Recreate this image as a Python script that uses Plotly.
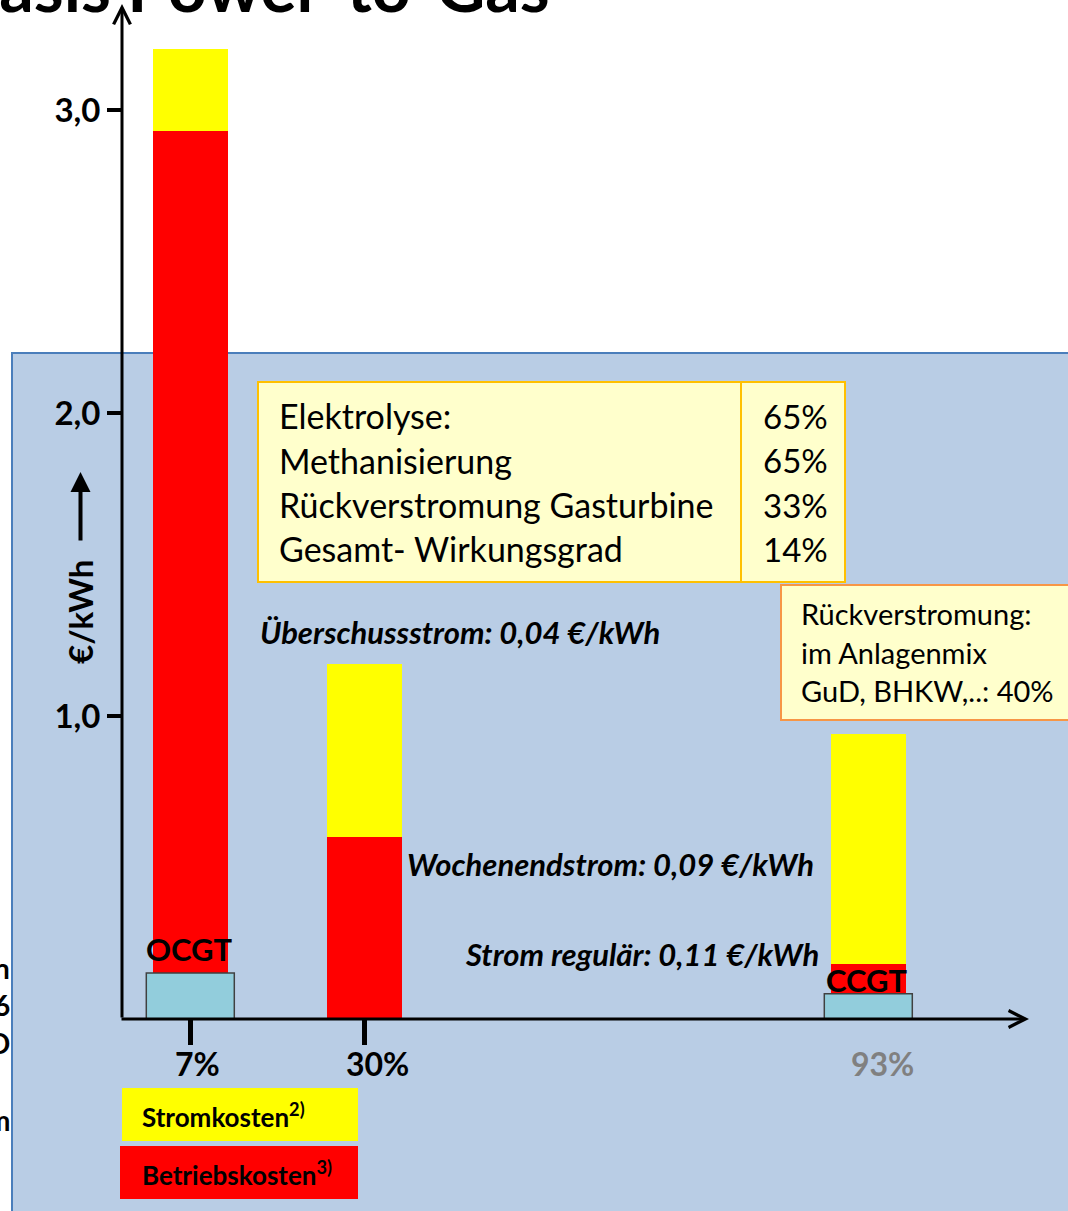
import plotly.graph_objects as go

# ---- data ----
categories = ["7%", "30%", "93%"]
plant_types = ["OCGT", None, "CCGT"]
betriebskosten = [2.93, 0.60, 0.18]   # €/kWh, red segment
stromkosten = [0.27, 0.57, 0.76]      # €/kWh, yellow segment
y_tick_values = [1, 2, 3]
y_tick_labels = ["1,0", "2,0", "3,0"]
table_labels = ["Elektrolyse:", "Methanisierung", "Rückverstromung Gasturbine", "Gesamt- Wirkungsgrad"]
table_values = ["65%", "65%", "33%", "14%"]
price_notes = ["Überschussstrom: 0,04 €/kWh", "Wochenendstrom: 0,09 €/kWh", "Strom regulär: 0,11 €/kWh"]
mix_note = ["Rückverstromung:", "im Anlagenmix", "GuD, BHKW,..: 40%"]
legend_labels = ["Stromkosten<sup>2)</sup>", "Betriebskosten<sup>3)</sup>"]

# ---- page geometry ----
W, H = 1068, 1211
L, R, T, B = 122, 39, 4, 192
PW, PH = W - L - R, H - T - B
UNIT_PX = 303                       # pixels per 1 €/kWh
Y_MAX = PH / UNIT_PX
slot_x = [68.3, 242.2, 746.3]       # bar centres along the x axis
bar_width = 75
label_shift = [7, 13, 14]
plant_box = {"OCGT": 0.152, "CCGT": 0.083}
plant_label_y = {"OCGT": 949, "CCGT": 980}

FONT = "Lato"
YELLOW, RED = "#FFFF00", "#FF0000"


def px(x):
    return (x - L) / PW


def py(y):
    return (H - B - y) / PH


def text_ann(x, y, text, size, xanchor="left", color="black", **kw):
    return dict(x=px(x), y=py(y), xref="paper", yref="paper", xanchor=xanchor, yanchor="middle",
                text=text, showarrow=False, font=dict(family=FONT, size=size, color=color), **kw)


fig = go.Figure()
fig.add_trace(go.Bar(x=slot_x, y=betriebskosten, width=bar_width, name="Betriebskosten",
                     marker=dict(color=RED, line=dict(width=0))))
fig.add_trace(go.Bar(x=slot_x, y=stromkosten, width=bar_width, name="Stromkosten",
                     marker=dict(color=YELLOW, line=dict(width=0))))

shapes = [
    # blue slide panel
    dict(type="rect", xref="paper", yref="paper", x0=px(12), x1=px(1090), y0=py(1240), y1=py(353),
         fillcolor="#B9CDE5", line=dict(color="#4A7EBB", width=2), layer="below"),
    # efficiency table
    dict(type="rect", xref="paper", yref="paper", x0=px(258), x1=px(845), y0=py(582), y1=py(382),
         fillcolor="#FFFFCC", line=dict(color="#FFC000", width=2), layer="below"),
    dict(type="line", xref="paper", yref="paper", x0=px(741), x1=px(741), y0=py(582), y1=py(382),
         line=dict(color="#FFC000", width=2), layer="below"),
    # plant mix note
    dict(type="rect", xref="paper", yref="paper", x0=px(781), x1=px(1090), y0=py(720), y1=py(585),
         fillcolor="#FFFFCC", line=dict(color="#F79646", width=2), layer="below"),
    # legend swatches
    dict(type="rect", xref="paper", yref="paper", x0=px(122), x1=px(358), y0=py(1141), y1=py(1088),
         fillcolor=YELLOW, line=dict(width=0), layer="above"),
    dict(type="rect", xref="paper", yref="paper", x0=px(120), x1=px(358), y0=py(1199), y1=py(1146),
         fillcolor=RED, line=dict(width=0), layer="above"),
]

annotations = []
for i, ptype in enumerate(plant_types):
    if ptype:
        shapes.append(dict(type="rect", xref="x", yref="y", x0=slot_x[i] - 44, x1=slot_x[i] + 44,
                           y0=0, y1=plant_box[ptype], fillcolor="#92CDDC",
                           line=dict(color="#404040", width=1.5), layer="above"))
        annotations.append(dict(x=slot_x[i] - 1, y=py(plant_label_y[ptype]), xref="x", yref="paper",
                                xanchor="center", yanchor="middle", text=f"<b>{ptype}</b>",
                                showarrow=False, font=dict(family=FONT, size=31, color="black")))

# axes drawn as arrows
annotations.append(dict(x=0, y=Y_MAX, xref="x", yref="y", ax=0, ay=PH, text="", showarrow=True,
                        arrowhead=5, arrowwidth=3, arrowsize=1.1, arrowcolor="black", standoff=0))
annotations.append(dict(x=PW, y=0, xref="x", yref="y", ax=-PW - 2, ay=0, text="", showarrow=True,
                        arrowhead=5, arrowwidth=3, arrowsize=1.1, arrowcolor="black", standoff=0))

# category labels
for i, cat in enumerate(categories):
    color = "#808080" if i == 2 else "black"
    annotations.append(dict(x=slot_x[i], y=py(1063), xref="x", yref="paper", xshift=label_shift[i],
                            xanchor="center", yanchor="middle",
                            text=f"<b>{cat}</b>", showarrow=False,
                            font=dict(family=FONT, size=32, color=color)))

# y-axis unit with arrow
annotations.append(text_ann(80, 612, "<b>€/kWh</b>", 33, xanchor="center", textangle=-90))
annotations.append(dict(x=px(80.5), y=py(472), xref="paper", yref="paper", ax=0, ay=70, text="",
                        showarrow=True, arrowhead=2, arrowwidth=4, arrowsize=1, arrowcolor="black",
                        standoff=0))

# title
annotations.append(dict(x=px(552), y=py(28), xref="paper", yref="paper", xanchor="right",
                        yanchor="bottom", text="<b>Basis Power-to-Gas</b>", showarrow=False,
                        font=dict(family=FONT, size=68, color="black")))

# efficiency table text
for j, (lab, val) in enumerate(zip(table_labels, table_values)):
    yy = 416 + j * 44.3
    annotations.append(text_ann(277, yy, lab, 34))
    annotations.append(text_ann(761, yy, val, 33))

# plant mix note text
for j, line in enumerate(mix_note):
    annotations.append(text_ann(799, 614 + j * 38, line, 29))

# electricity price notes
note_pos = [(258, 632), (405, 864), (463, 954)]
for (nx, ny), note in zip(note_pos, price_notes):
    annotations.append(text_ann(nx, ny, f"<b><i>{note}</i></b>", 31))

# legend labels
for ly, lab in zip([1115, 1173], legend_labels):
    annotations.append(text_ann(140, ly, f"<b>{lab}</b>", 26))

# text running in from the neighbouring panel
for ch, fy in zip(["n", "6", "D", "m"], [968, 1005, 1043, 1120]):
    annotations.append(text_ann(12, fy, f"<b>{ch}</b>", 28, xanchor="right"))

fig.update_layout(
    width=W, height=H, autosize=False,
    margin=dict(l=L, r=R, t=T, b=B, pad=0),
    paper_bgcolor="white", plot_bgcolor="rgba(0,0,0,0)",
    barmode="stack", bargap=0, showlegend=False,
    shapes=shapes, annotations=annotations,
    xaxis=dict(range=[0, PW], showgrid=False, zeroline=False, showline=False,
               tickmode="array", tickvals=slot_x[:2], ticks="outside", ticklen=25, tickwidth=4.5,
               tickcolor="black", showticklabels=False, fixedrange=True),
    yaxis=dict(range=[0, Y_MAX], showgrid=False, zeroline=False, showline=False,
               tickmode="array", tickvals=y_tick_values,
               ticktext=[f"<b>{t}</b>" for t in y_tick_labels],
               ticks="outside", ticklen=14, tickwidth=4, tickcolor="black",
               tickfont=dict(family=FONT, size=33, color="black"), fixedrange=True),
)

fig.write_html("out.html")
